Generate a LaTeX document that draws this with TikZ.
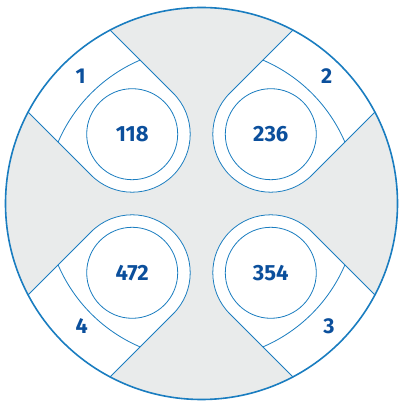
\documentclass[tikz,border=0pt]{standalone}
\usepackage{fontspec}
\setmainfont[Numbers=Proportional]{Fira Sans}
\usetikzlibrary{calc}
\definecolor{lineblue}{HTML}{1A7DC0}
\definecolor{textblue}{HTML}{0B4F9C}
\definecolor{bggray}{HTML}{E9EBEB}
\begin{document}
\begin{tikzpicture}[x=1pt,y=1pt,
  thin line/.style={draw=lineblue, line width=0.8pt},
  numtext/.style={text=textblue, font=\bfseries\fontsize{22}{22}\selectfont},
  idtext/.style={text=textblue, font=\bfseries\fontsize{21.5}{21.5}\selectfont},
  hub/.style={circle, thin line, minimum size=91pt, inner sep=0pt, numtext},
  rim/.style={circle, draw=lineblue, line width=1.6pt, minimum size=392pt, inner sep=0pt}]
\useasboundingbox (-201.5,-199.5) rectangle (197.5,203.5);
\fill[bggray] (0,0) circle (196);
\foreach \th/\num/\id/\lx/\ly in {135/118/1/-121/127.3, 45/236/2/125.2/127.5, -45/354/3/127.5/-123, -135/472/4/-119.8/-123} {
  \fill[white] (\th-17.21:196) -- ($(\th:98)+(\th-90:58)$)
     arc[start angle=\th-90, end angle=\th-270, radius=58]
     -- (\th+17.21:196) arc[start angle=\th+17.21, end angle=\th-17.21, radius=196] -- cycle;
  \draw[thin line] (\th-17.21:196) -- ($(\th:98)+(\th-90:58)$)
     arc[start angle=\th-90, end angle=\th-270, radius=58]
     -- (\th+17.21:196);
  \draw[thin line] (\th-21.83:156) arc[start angle=\th-21.83, end angle=\th+21.83, radius=156];
  \node[hub] (c\id) at (\th:98) {\num};
  \node[idtext] (l\id) at (\lx,\ly) {\id};
}
\node[rim] (outer) at (0,0) {};
\end{tikzpicture}
\end{document}
